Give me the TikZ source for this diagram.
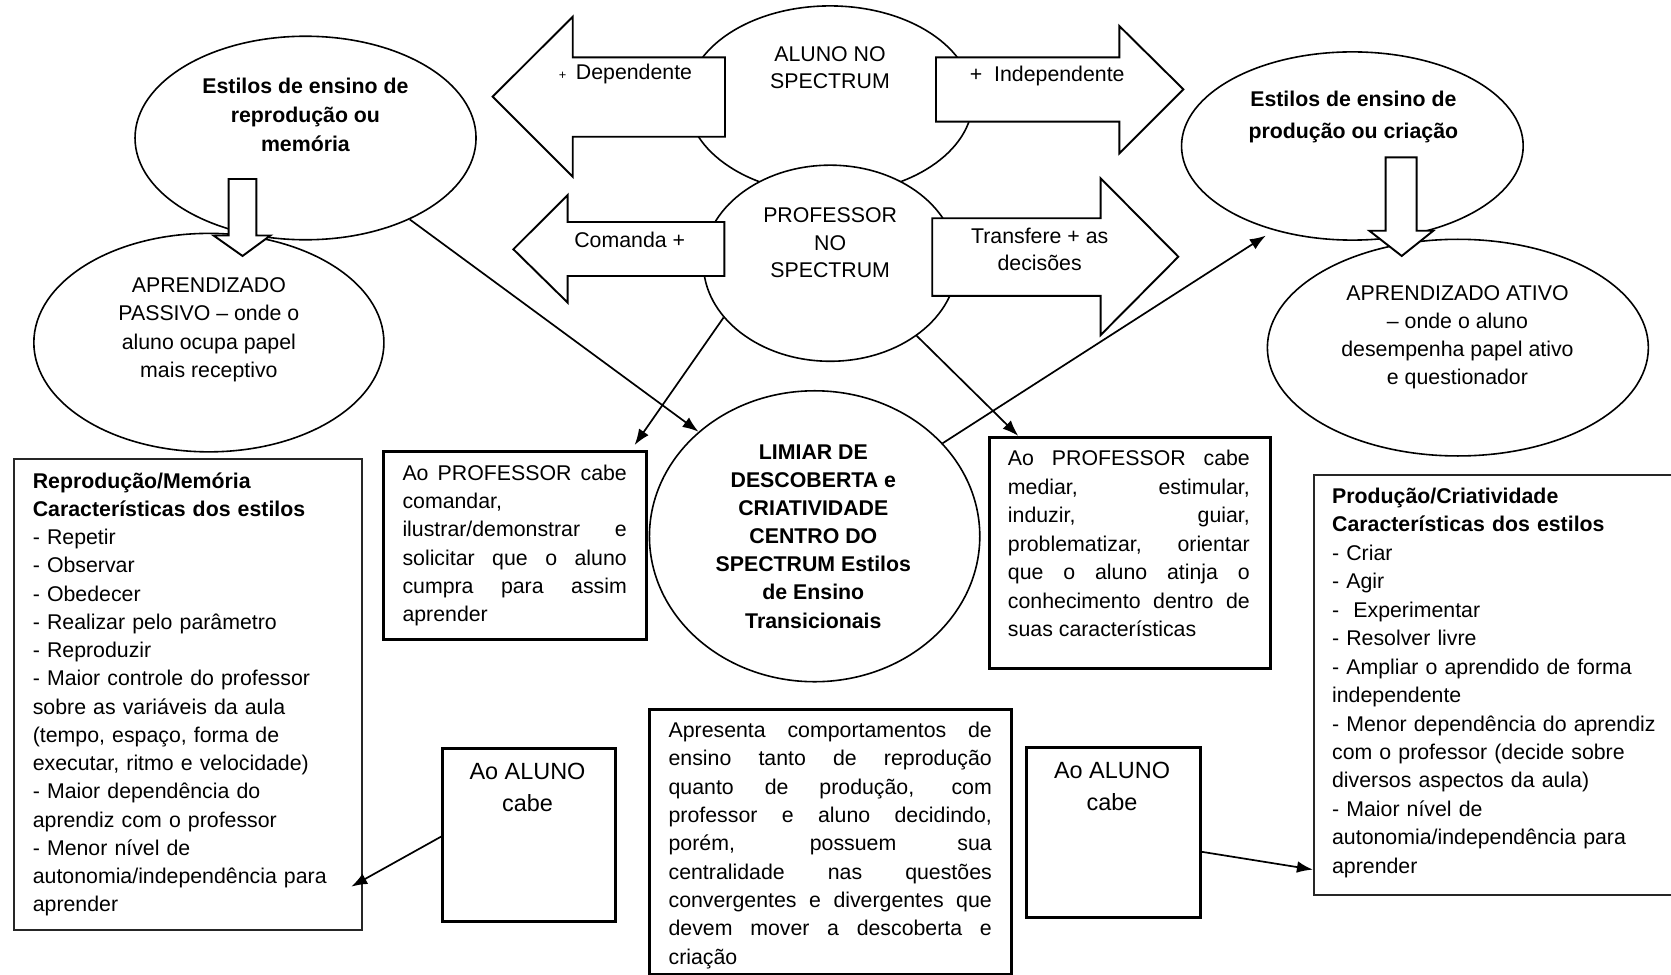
\documentclass[tikz,border=0pt]{standalone}
\usepackage{fontspec}
\setmainfont{Liberation Sans}
\usetikzlibrary{shapes.geometric,arrows.meta,calc}
\tolerance=10000
\hyphenpenalty=10000
\exhyphenpenalty=10000
\hbadness=10000
\begin{document}
\begin{tikzpicture}[x=0.5pt,y=-0.5pt,
  every node/.append style={font=\fontsize{10}{13}\selectfont},
  ell/.style={draw, ellipse, line width=0.75pt, inner sep=0},
  blk/.style={draw, fill=white, line width=0.9pt, line join=miter},
  thickbox/.style={draw, rectangle, anchor=north west, line width=1.4pt, inner sep=0},
  thinbox/.style={draw=black!85, rectangle, anchor=north west, line width=0.8pt, inner sep=0},
  ctext/.style={inner sep=0, align=center, anchor=north},
  jtext/.style={inner sep=0, anchor=north west, align=justify},
  ltext/.style={inner sep=0, anchor=north west, align=left},
  con/.style={line width=0.8pt, -{Latex[length=7.5pt,width=5.5pt]}}
]
\useasboundingbox (0,0) rectangle (1568,914);
\clip (0,0) rectangle (1568,914);

% ---------- ellipses ----------
\node[ell, minimum width=160pt, minimum height=95.5pt] (E1) at (286.7,129.5) {};
\node[ell, minimum width=164.25pt, minimum height=102.5pt] (E2) at (196,321.5) {};
\node[ell, minimum width=160.3pt, minimum height=88.3pt] (E3) at (1269,137) {};
\node[ell, minimum width=178.75pt, minimum height=101.65pt] (E4) at (1368,326.2) {};
\node[ell, minimum width=155pt, minimum height=136.5pt] (L) at (764.4,503.2) {};
\node[ell, minimum width=134pt, minimum height=88.25pt] (A) at (778.8,93.8) {};
\node[ell, fill=white, minimum width=119pt, minimum height=92pt] (P) at (779,247) {};

% ---------- down block arrows ----------
\draw[blk] (214.5,168) -- (240.6,168) -- (240.6,221) -- (253.7,221) -- (227.6,240.2)
  -- (200.4,221) -- (214.5,221) -- cycle;
\draw[blk] (1300.2,147.6) -- (1329.3,147.6) -- (1329.3,216.5) -- (1345,216.5)
  -- (1315.3,240.2) -- (1284.9,216.5) -- (1300.2,216.5) -- cycle;

% ---------- horizontal block arrows ----------
\draw[blk] (680.3,53.8) -- (537.4,53.8) -- (537.4,15.7) -- (462.3,90.7)
  -- (537.4,165.8) -- (537.4,128.3) -- (680.3,128.3) -- cycle;
\draw[blk] (878.3,53.8) -- (1050.3,53.8) -- (1050.3,24.4) -- (1110.4,83.8)
  -- (1050.3,143.9) -- (1050.3,114.2) -- (878.3,114.2) -- cycle;
\draw[blk] (679.7,208.3) -- (532.7,208.3) -- (532.7,183) -- (481.7,233.9)
  -- (532.7,284) -- (532.7,259) -- (679.7,259) -- cycle;
\draw[blk] (874.8,204.8) -- (1032.8,204.8) -- (1032.8,167.3) -- (1105.7,240.9)
  -- (1032.8,314.4) -- (1032.8,277.7) -- (874.8,277.7) -- cycle;

% ---------- boxes ----------
\node[thinbox, minimum width=163.2pt, minimum height=221pt] (B1) at (12.6,430) {};
\node[thickbox, minimum width=123.5pt, minimum height=88.5pt] (B2) at (358,422) {};
\node[thickbox, minimum width=132pt, minimum height=108.5pt] (B3) at (927,409) {};
\node[thickbox, minimum width=170pt, minimum height=124.5pt] (B4) at (608,664) {};
\node[thickbox, minimum width=81pt, minimum height=81pt] (B5) at (414,701) {};
\node[thickbox, minimum width=81.5pt, minimum height=80pt] (B6) at (962,700) {};
\node[thinbox, minimum width=174pt, minimum height=197pt] (B7) at (1232,445) {};

% ---------- texts in ellipses ----------
\node[ctext, font=\bfseries\fontsize{10}{13.5}\selectfont] (E1t) at (286.6,73)
  {Estilos de ensino de\\reprodução ou\\memória};
\node[ctext, font=\fontsize{10}{13.2}\selectfont] (E2t) at (196,260.4)
  {APRENDIZADO\\PASSIVO -- onde o\\aluno ocupa papel\\mais receptivo};
\node[ctext, font=\bfseries\fontsize{10}{14.85}\selectfont] (E3t) at (1269.9,85.3)
  {Estilos de ensino de\\produção ou criação};
\node[ctext, font=\fontsize{10}{13.15}\selectfont] (E4t) at (1367.6,267.6)
  {APRENDIZADO ATIVO\\-- onde o aluno\\desempenha papel ativo\\e questionador};
\node[ctext, font=\fontsize{10}{12.9}\selectfont] (At) at (778.8,43)
  {ALUNO NO\\SPECTRUM};
\node[ctext, font=\fontsize{10}{12.9}\selectfont] (Pt) at (779,194.7)
  {PROFESSOR\\NO\\SPECTRUM};
\node[ctext, font=\bfseries\fontsize{10}{13.2}\selectfont] (Lt) at (763.2,416.8)
  {LIMIAR DE\\DESCOBERTA e\\CRIATIVIDADE\\CENTRO DO\\SPECTRUM Estilos\\de Ensino\\Transicionais};

% ---------- texts in block arrows ----------
\node[anchor=base west, inner sep=0] (tDep) at (524,75)
  {{\fontsize{6}{6}\selectfont +}\hspace{4.5pt}Dependente};
\node[anchor=base west, inner sep=0] (tInd) at (909.6,76.6)
  {+\hspace{5.6pt}Independente};
\node[anchor=base west, inner sep=0] (tCom) at (538.5,232) {Comanda +};
\node[ctext, font=\fontsize{10}{12.85}\selectfont] (tTra) at (975.6,213.4)
  {Transfere + as\\decisões};

% ---------- texts in boxes ----------
\node[ltext, text width=150pt, font=\fontsize{10}{13.25}\selectfont] (T1) at (30.4,443)
  {\textbf{Reprodução/Memória}\\
   \textbf{Características dos estilos}\\
   - Repetir\\
   - Observar\\
   - Obedecer\\
   - Realizar pelo parâmetro\\
   - Reproduzir\\
   - Maior controle do professor\\
   sobre as variáveis da aula\\
   (tempo, espaço, forma de\\
   executar, ritmo e velocidade)\\
   - Maior dependência do\\
   aprendiz com o professor\\
   - Menor nível de\\
   autonomia/independência para\\
   aprender};
\node[jtext, text width=105.25pt, font=\fontsize{10}{13.3}\selectfont] (T2) at (377.3,435.6)
  {Ao PROFESSOR cabe\linebreak comandar,\linebreak ilustrar/demonstrar e\linebreak
   solicitar que o aluno\linebreak cumpra para assim\linebreak aprender};
\node[jtext, text width=113.5pt, font=\fontsize{10}{13.4}\selectfont] (T3) at (945.4,422)
  {Ao PROFESSOR cabe\linebreak mediar, estimular,\linebreak induzir, guiar,\linebreak
   problematizar, orientar\linebreak que o aluno atinja o\linebreak
   conhecimento dentro de\linebreak suas características};
\node[jtext, text width=151.65pt, font=\fontsize{10}{13.3}\selectfont] (T4) at (627,677)
  {Apresenta comportamentos de\linebreak ensino tanto de reprodução\linebreak
   quanto de produção, com\linebreak professor e aluno decidindo,\linebreak
   porém, possuem sua\linebreak centralidade nas questões\linebreak
   convergentes e divergentes que\linebreak devem mover a descoberta e\linebreak criação};
\node[ctext, font=\fontsize{11}{15}\selectfont] (T5) at (495,716) {Ao ALUNO\\cabe};
\node[ctext, font=\fontsize{11}{15}\selectfont] (T6) at (1043.5,715) {Ao ALUNO\\cabe};
\node[ltext, text width=160pt, font=\fontsize{10}{13.35}\selectfont] (T7) at (1249.6,457.5)
  {\textbf{Produção/Criatividade}\\
   \textbf{Características dos estilos}\\
   - Criar\\
   - Agir\\
   - \ Experimentar\\
   - Resolver livre\\
   - Ampliar o aprendido de forma\\
   independente\\
   - Menor dependência do aprendiz\\
   com o professor (decide sobre\\
   diversos aspectos da aula)\\
   - Maior nível de\\
   autonomia/independência para\\
   aprender};

% ---------- connectors ----------
\draw[con] (E1.-38.4) -- (L.138);
\draw[con] (P.207.3) -- ($(B2.north east)+(-12.3,-4.4)$);
\draw[con] (P.-40) -- ($(B3.north west)+(28.5,0)$);
\draw[con] (L.36) -- ($(E3.226)+(-5.3,5.5)$);
\draw[con] ($(B5.north west)+(0,84)$) -- ($(B1.north east)+(-11,402)$);
\draw[con] ($(B6.north east)+(-2,99)$) -- ($(B7.north west)+(0,371)$);
\end{tikzpicture}
\end{document}
